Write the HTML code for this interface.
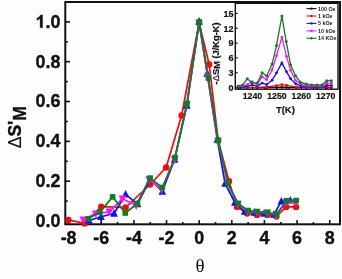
<!DOCTYPE html>
<html><head><meta charset="utf-8"><title>chart</title>
<style>
html,body{margin:0;padding:0;background:#fff;}
body{width:342px;height:279px;overflow:hidden;}
svg{display:block;font-family:"Liberation Sans",sans-serif;filter:blur(0.4px);}
.t{font-weight:bold;font-size:17.9px;fill:#111;stroke:#111;stroke-width:0.35px;}
.it{font-weight:bold;font-size:9px;fill:#111;stroke:#111;stroke-width:0.2px;}
.lg{font-weight:bold;font-size:5.35px;fill:#222;}
</style></head><body>
<svg width="342" height="279" viewBox="0 0 342 279">
<rect width="342" height="279" fill="#fefefe"/>
<g stroke="#111" stroke-width="1.6"><line x1="65.3" y1="221.0" x2="70.0" y2="221.0"/><line x1="65.3" y1="201.1" x2="67.8" y2="201.1"/><line x1="65.3" y1="181.2" x2="70.0" y2="181.2"/><line x1="65.3" y1="161.3" x2="67.8" y2="161.3"/><line x1="65.3" y1="141.4" x2="70.0" y2="141.4"/><line x1="65.3" y1="121.5" x2="67.8" y2="121.5"/><line x1="65.3" y1="101.5" x2="70.0" y2="101.5"/><line x1="65.3" y1="81.6" x2="67.8" y2="81.6"/><line x1="65.3" y1="61.7" x2="70.0" y2="61.7"/><line x1="65.3" y1="41.8" x2="67.8" y2="41.8"/><line x1="65.3" y1="21.9" x2="70.0" y2="21.9"/><line x1="68.6" y1="224.4" x2="68.6" y2="220.0"/><line x1="84.9" y1="224.4" x2="84.9" y2="222.0"/><line x1="101.2" y1="224.4" x2="101.2" y2="220.0"/><line x1="117.6" y1="224.4" x2="117.6" y2="222.0"/><line x1="133.9" y1="224.4" x2="133.9" y2="220.0"/><line x1="150.2" y1="224.4" x2="150.2" y2="222.0"/><line x1="166.5" y1="224.4" x2="166.5" y2="220.0"/><line x1="182.8" y1="224.4" x2="182.8" y2="222.0"/><line x1="199.2" y1="224.4" x2="199.2" y2="220.0"/><line x1="215.5" y1="224.4" x2="215.5" y2="222.0"/><line x1="231.8" y1="224.4" x2="231.8" y2="220.0"/><line x1="248.1" y1="224.4" x2="248.1" y2="222.0"/><line x1="264.4" y1="224.4" x2="264.4" y2="220.0"/><line x1="280.8" y1="224.4" x2="280.8" y2="222.0"/><line x1="297.1" y1="224.4" x2="297.1" y2="220.0"/><line x1="313.4" y1="224.4" x2="313.4" y2="222.0"/><line x1="329.7" y1="224.4" x2="329.7" y2="220.0"/></g>
<rect x="65.3" y="2.0" width="274.7" height="222.3" fill="none" stroke="#111" stroke-width="2"/>
<g><polyline fill="none" stroke="#f80808" stroke-width="1.7" stroke-linejoin="round" points="68.4,219.9 84.6,223.4 101.2,206.7 125.6,207.5 150.1,184.5 166.1,167.5 181.6,115.5 199.1,22.8 209.2,64.5 218.2,140.5 229.0,181.2 237.0,206.9 247.1,213.5 257.0,214.9 267.5,214.9 276.4,216.5 286.2,206.9 296.1,206.9"/><circle cx="68.4" cy="219.9" r="3.2" fill="#f80808"/><circle cx="84.6" cy="223.4" r="3.2" fill="#f80808"/><circle cx="101.2" cy="206.7" r="3.2" fill="#f80808"/><circle cx="125.6" cy="207.5" r="3.2" fill="#f80808"/><circle cx="150.1" cy="184.5" r="3.2" fill="#f80808"/><circle cx="166.1" cy="167.5" r="3.2" fill="#f80808"/><circle cx="181.6" cy="115.5" r="3.2" fill="#f80808"/><circle cx="199.1" cy="22.8" r="3.2" fill="#f80808"/><circle cx="209.2" cy="64.5" r="3.2" fill="#f80808"/><circle cx="218.2" cy="140.5" r="3.2" fill="#f80808"/><circle cx="229.0" cy="181.2" r="3.2" fill="#f80808"/><circle cx="237.0" cy="206.9" r="3.2" fill="#f80808"/><circle cx="247.1" cy="213.5" r="3.2" fill="#f80808"/><circle cx="257.0" cy="214.9" r="3.2" fill="#f80808"/><circle cx="267.5" cy="214.9" r="3.2" fill="#f80808"/><circle cx="276.4" cy="216.5" r="3.2" fill="#f80808"/><circle cx="286.2" cy="206.9" r="3.2" fill="#f80808"/><circle cx="296.1" cy="206.9" r="3.2" fill="#f80808"/><polyline fill="none" stroke="#1010f5" stroke-width="1.7" stroke-linejoin="round" points="89.0,220.5 101.0,216.8 114.1,213.5 125.6,194.3 137.5,204.1 150.1,179.5 162.3,191.5 174.6,159.5 186.9,105.5 199.1,21.5 207.2,73.5 217.3,139.5 225.1,183.5 234.9,202.5 244.6,211.5 254.4,212.5 264.2,213.5 274.0,214.5 281.3,201.3 290.3,200.3"/><polygon fill="#1010f5" points="89.0,216.1 85.2,223.7 92.8,223.7"/><polygon fill="#1010f5" points="101.0,212.4 97.2,220.0 104.8,220.0"/><polygon fill="#1010f5" points="114.1,209.1 110.3,216.7 117.9,216.7"/><polygon fill="#1010f5" points="125.6,189.9 121.8,197.5 129.4,197.5"/><polygon fill="#1010f5" points="137.5,199.7 133.7,207.3 141.3,207.3"/><polygon fill="#1010f5" points="150.1,175.1 146.3,182.7 153.9,182.7"/><polygon fill="#1010f5" points="162.3,187.1 158.5,194.7 166.1,194.7"/><polygon fill="#1010f5" points="174.6,155.1 170.8,162.7 178.4,162.7"/><polygon fill="#1010f5" points="186.9,101.1 183.1,108.7 190.7,108.7"/><polygon fill="#1010f5" points="199.1,17.1 195.3,24.7 202.9,24.7"/><polygon fill="#1010f5" points="207.2,69.1 203.4,76.7 211.0,76.7"/><polygon fill="#1010f5" points="217.3,135.1 213.5,142.7 221.1,142.7"/><polygon fill="#1010f5" points="225.1,179.1 221.3,186.7 228.9,186.7"/><polygon fill="#1010f5" points="234.9,198.1 231.1,205.7 238.7,205.7"/><polygon fill="#1010f5" points="244.6,207.1 240.8,214.7 248.4,214.7"/><polygon fill="#1010f5" points="254.4,208.1 250.6,215.7 258.2,215.7"/><polygon fill="#1010f5" points="264.2,209.1 260.4,216.7 268.0,216.7"/><polygon fill="#1010f5" points="274.0,210.1 270.2,217.7 277.8,217.7"/><polygon fill="#1010f5" points="281.3,196.9 277.5,204.5 285.1,204.5"/><polygon fill="#1010f5" points="290.3,195.9 286.5,203.5 294.1,203.5"/><polyline fill="none" stroke="#f515f5" stroke-width="1.7" stroke-linejoin="round" points="83.2,219.6 95.8,213.6 109.4,211.8 122.4,198.7 136.2,205.5 149.1,179.5 161.5,189.5 174.6,159.5 186.8,104.5 199.1,23.0 207.8,77.0 218.0,140.8 227.8,184.0 237.8,204.0 247.5,211.3 256.8,212.1 267.2,212.9 276.2,215.0 286.3,202.3 295.9,202.3"/><polygon fill="#f515f5" points="83.2,224.0 79.4,216.4 87.0,216.4"/><polygon fill="#f515f5" points="95.8,218.0 92.0,210.4 99.6,210.4"/><polygon fill="#f515f5" points="109.4,216.2 105.6,208.6 113.2,208.6"/><polygon fill="#f515f5" points="122.4,203.1 118.6,195.5 126.2,195.5"/><polygon fill="#f515f5" points="136.2,209.9 132.4,202.3 140.0,202.3"/><polygon fill="#f515f5" points="149.1,183.9 145.3,176.3 152.9,176.3"/><polygon fill="#f515f5" points="161.5,193.9 157.7,186.3 165.3,186.3"/><polygon fill="#f515f5" points="174.6,163.9 170.8,156.3 178.4,156.3"/><polygon fill="#f515f5" points="186.8,108.9 183.0,101.3 190.6,101.3"/><polygon fill="#f515f5" points="199.1,27.4 195.3,19.8 202.9,19.8"/><polygon fill="#f515f5" points="207.8,81.4 204.0,73.8 211.6,73.8"/><polygon fill="#f515f5" points="218.0,145.2 214.2,137.6 221.8,137.6"/><polygon fill="#f515f5" points="227.8,188.4 224.0,180.8 231.6,180.8"/><polygon fill="#f515f5" points="237.8,208.4 234.0,200.8 241.6,200.8"/><polygon fill="#f515f5" points="247.5,215.7 243.7,208.1 251.3,208.1"/><polygon fill="#f515f5" points="256.8,216.5 253.0,208.9 260.6,208.9"/><polygon fill="#f515f5" points="267.2,217.3 263.4,209.7 271.0,209.7"/><polygon fill="#f515f5" points="276.2,219.4 272.4,211.8 280.0,211.8"/><polygon fill="#f515f5" points="286.3,206.7 282.5,199.1 290.1,199.1"/><polygon fill="#f515f5" points="295.9,206.7 292.1,199.1 299.7,199.1"/><polyline fill="none" stroke="#0a8020" stroke-width="1.7" stroke-linejoin="round" points="88.3,218.8 99.9,212.1 112.6,196.9 125.3,213.0 137.5,203.5 150.1,178.1 162.3,187.5 175.0,157.5 186.9,103.5 199.2,22.0 208.4,78.0 218.2,140.5 228.0,183.5 238.1,203.5 247.9,210.5 257.0,211.5 267.5,212.3 276.5,214.3 286.6,200.8 296.1,200.5"/><rect x="85.5" y="216.0" width="5.6" height="5.6" fill="#0a8020"/><rect x="97.1" y="209.3" width="5.6" height="5.6" fill="#0a8020"/><rect x="109.8" y="194.1" width="5.6" height="5.6" fill="#0a8020"/><rect x="122.5" y="210.2" width="5.6" height="5.6" fill="#0a8020"/><rect x="134.7" y="200.7" width="5.6" height="5.6" fill="#0a8020"/><rect x="147.3" y="175.3" width="5.6" height="5.6" fill="#0a8020"/><rect x="159.5" y="184.7" width="5.6" height="5.6" fill="#0a8020"/><rect x="172.2" y="154.7" width="5.6" height="5.6" fill="#0a8020"/><rect x="184.1" y="100.7" width="5.6" height="5.6" fill="#0a8020"/><rect x="196.4" y="19.2" width="5.6" height="5.6" fill="#0a8020"/><rect x="205.6" y="75.2" width="5.6" height="5.6" fill="#0a8020"/><rect x="215.4" y="137.7" width="5.6" height="5.6" fill="#0a8020"/><rect x="225.2" y="180.7" width="5.6" height="5.6" fill="#0a8020"/><rect x="235.3" y="200.7" width="5.6" height="5.6" fill="#0a8020"/><rect x="245.1" y="207.7" width="5.6" height="5.6" fill="#0a8020"/><rect x="254.2" y="208.7" width="5.6" height="5.6" fill="#0a8020"/><rect x="264.7" y="209.5" width="5.6" height="5.6" fill="#0a8020"/><rect x="273.7" y="211.5" width="5.6" height="5.6" fill="#0a8020"/><rect x="283.8" y="198.0" width="5.6" height="5.6" fill="#0a8020"/><rect x="293.3" y="197.7" width="5.6" height="5.6" fill="#0a8020"/></g>
<g class="t"><text x="60.4" y="226.9" text-anchor="end">0.0</text><text x="60.4" y="187.1" text-anchor="end">0.2</text><text x="60.4" y="147.3" text-anchor="end">0.4</text><text x="60.4" y="107.4" text-anchor="end">0.6</text><text x="60.4" y="67.6" text-anchor="end">0.8</text><text x="60.4" y="27.8" text-anchor="end">.0</text><polygon points="42.57,27.80 40.10,27.80 40.10,18.55 36.93,20.41 36.93,18.19 39.10,16.88 40.57,14.93 42.57,14.93"/><text x="68.6" y="244.4" text-anchor="middle">-8</text><text x="101.2" y="244.4" text-anchor="middle">-6</text><text x="133.9" y="244.4" text-anchor="middle">-4</text><text x="166.5" y="244.4" text-anchor="middle">-2</text><text x="199.2" y="244.4" text-anchor="middle">0</text><text x="231.8" y="244.4" text-anchor="middle">2</text><text x="264.4" y="244.4" text-anchor="middle">4</text><text x="297.1" y="244.4" text-anchor="middle">6</text><text x="329.7" y="244.4" text-anchor="middle">8</text></g>
<g class="t" style="font-size:17.5px" transform="translate(21,148.3) rotate(-90)"><text x="0" y="0"><tspan font-weight="normal" stroke-width="0.1">&#916;</tspan>S'<tspan dy="5.2">M</tspan></text></g>
<text x="200" y="272.3" text-anchor="middle" style="font-family:'Liberation Serif',serif;font-size:19px;fill:#111">&#952;</text>
<!-- inset -->
<g><polyline fill="none" stroke="#111" stroke-width="1.3" stroke-linejoin="round" points="238.2,87.6 247.2,87.6 257.2,87.6 266.7,87.5 276.5,87.4 281.9,87.2 286.5,87.4 296.3,87.5 306.3,87.6 317.0,87.6 326.8,87.6 331.4,87.6"/><circle cx="238.2" cy="87.6" r="1.3" fill="#111"/><circle cx="247.2" cy="87.6" r="1.3" fill="#111"/><circle cx="257.2" cy="87.6" r="1.3" fill="#111"/><circle cx="266.7" cy="87.5" r="1.3" fill="#111"/><circle cx="276.5" cy="87.4" r="1.3" fill="#111"/><circle cx="281.9" cy="87.2" r="1.3" fill="#111"/><circle cx="286.5" cy="87.4" r="1.3" fill="#111"/><circle cx="296.3" cy="87.5" r="1.3" fill="#111"/><circle cx="306.3" cy="87.6" r="1.3" fill="#111"/><circle cx="317.0" cy="87.6" r="1.3" fill="#111"/><circle cx="326.8" cy="87.6" r="1.3" fill="#111"/><circle cx="331.4" cy="87.6" r="1.3" fill="#111"/><polyline fill="none" stroke="#f80808" stroke-width="1.3" stroke-linejoin="round" points="238.2,87.6 247.2,87.4 257.2,87.4 266.7,86.9 276.5,85.6 281.9,84.6 286.5,85.4 296.3,86.9 306.3,87.4 317.0,87.5 326.8,87.1 331.4,87.1"/><circle cx="238.2" cy="87.6" r="1.4" fill="#f80808"/><circle cx="247.2" cy="87.4" r="1.4" fill="#f80808"/><circle cx="257.2" cy="87.4" r="1.4" fill="#f80808"/><circle cx="266.7" cy="86.9" r="1.4" fill="#f80808"/><circle cx="276.5" cy="85.6" r="1.4" fill="#f80808"/><circle cx="281.9" cy="84.6" r="1.4" fill="#f80808"/><circle cx="286.5" cy="85.4" r="1.4" fill="#f80808"/><circle cx="296.3" cy="86.9" r="1.4" fill="#f80808"/><circle cx="306.3" cy="87.4" r="1.4" fill="#f80808"/><circle cx="317.0" cy="87.5" r="1.4" fill="#f80808"/><circle cx="326.8" cy="87.1" r="1.4" fill="#f80808"/><circle cx="331.4" cy="87.1" r="1.4" fill="#f80808"/><polyline fill="none" stroke="#1010f5" stroke-width="1.3" stroke-linejoin="round" points="238.2,87.1 242.6,86.9 247.2,86.1 252.1,85.1 257.2,86.1 262.1,83.1 266.7,84.6 272.1,80.2 276.5,72.8 281.9,62.9 286.5,71.8 290.6,78.7 295.5,83.6 300.9,85.9 306.3,86.6 311.6,86.9 317.0,86.9 321.6,86.9 326.8,85.4 331.4,85.4"/><circle cx="238.2" cy="87.1" r="1.4" fill="#1010f5"/><circle cx="242.6" cy="86.9" r="1.4" fill="#1010f5"/><circle cx="247.2" cy="86.1" r="1.4" fill="#1010f5"/><circle cx="252.1" cy="85.1" r="1.4" fill="#1010f5"/><circle cx="257.2" cy="86.1" r="1.4" fill="#1010f5"/><circle cx="262.1" cy="83.1" r="1.4" fill="#1010f5"/><circle cx="266.7" cy="84.6" r="1.4" fill="#1010f5"/><circle cx="272.1" cy="80.2" r="1.4" fill="#1010f5"/><circle cx="276.5" cy="72.8" r="1.4" fill="#1010f5"/><circle cx="281.9" cy="62.9" r="1.4" fill="#1010f5"/><circle cx="286.5" cy="71.8" r="1.4" fill="#1010f5"/><circle cx="290.6" cy="78.7" r="1.4" fill="#1010f5"/><circle cx="295.5" cy="83.6" r="1.4" fill="#1010f5"/><circle cx="300.9" cy="85.9" r="1.4" fill="#1010f5"/><circle cx="306.3" cy="86.6" r="1.4" fill="#1010f5"/><circle cx="311.6" cy="86.9" r="1.4" fill="#1010f5"/><circle cx="317.0" cy="86.9" r="1.4" fill="#1010f5"/><circle cx="321.6" cy="86.9" r="1.4" fill="#1010f5"/><circle cx="326.8" cy="85.4" r="1.4" fill="#1010f5"/><circle cx="331.4" cy="85.4" r="1.4" fill="#1010f5"/><polyline fill="none" stroke="#f515f5" stroke-width="1.3" stroke-linejoin="round" points="238.2,86.6 242.6,86.1 247.2,84.6 252.1,81.7 257.2,84.6 262.1,76.7 266.7,79.7 272.1,70.0 276.5,55.7 281.9,37.1 286.5,56.4 290.6,70.3 295.5,80.2 300.9,84.1 306.3,85.6 311.6,85.9 317.0,85.9 321.6,86.1 326.8,83.1 331.4,83.1"/><circle cx="238.2" cy="86.6" r="1.4" fill="#f515f5"/><circle cx="242.6" cy="86.1" r="1.4" fill="#f515f5"/><circle cx="247.2" cy="84.6" r="1.4" fill="#f515f5"/><circle cx="252.1" cy="81.7" r="1.4" fill="#f515f5"/><circle cx="257.2" cy="84.6" r="1.4" fill="#f515f5"/><circle cx="262.1" cy="76.7" r="1.4" fill="#f515f5"/><circle cx="266.7" cy="79.7" r="1.4" fill="#f515f5"/><circle cx="272.1" cy="70.0" r="1.4" fill="#f515f5"/><circle cx="276.5" cy="55.7" r="1.4" fill="#f515f5"/><circle cx="281.9" cy="37.1" r="1.4" fill="#f515f5"/><circle cx="286.5" cy="56.4" r="1.4" fill="#f515f5"/><circle cx="290.6" cy="70.3" r="1.4" fill="#f515f5"/><circle cx="295.5" cy="80.2" r="1.4" fill="#f515f5"/><circle cx="300.9" cy="84.1" r="1.4" fill="#f515f5"/><circle cx="306.3" cy="85.6" r="1.4" fill="#f515f5"/><circle cx="311.6" cy="85.9" r="1.4" fill="#f515f5"/><circle cx="317.0" cy="85.9" r="1.4" fill="#f515f5"/><circle cx="321.6" cy="86.1" r="1.4" fill="#f515f5"/><circle cx="326.8" cy="83.1" r="1.4" fill="#f515f5"/><circle cx="331.4" cy="83.1" r="1.4" fill="#f515f5"/><polyline fill="none" stroke="#0a8020" stroke-width="1.3" stroke-linejoin="round" points="238.2,86.1 242.6,85.1 247.2,78.8 252.1,82.7 257.2,83.1 262.1,72.8 266.7,76.0 272.1,64.1 276.5,45.6 281.9,16.1 286.2,41.6 290.6,64.8 295.5,75.7 300.4,82.2 306.3,84.1 311.6,84.9 317.0,84.9 321.6,85.1 326.8,80.7 331.4,80.7"/><circle cx="238.2" cy="86.1" r="1.5" fill="#0a8020"/><circle cx="242.6" cy="85.1" r="1.5" fill="#0a8020"/><circle cx="247.2" cy="78.8" r="1.5" fill="#0a8020"/><circle cx="252.1" cy="82.7" r="1.5" fill="#0a8020"/><circle cx="257.2" cy="83.1" r="1.5" fill="#0a8020"/><circle cx="262.1" cy="72.8" r="1.5" fill="#0a8020"/><circle cx="266.7" cy="76.0" r="1.5" fill="#0a8020"/><circle cx="272.1" cy="64.1" r="1.5" fill="#0a8020"/><circle cx="276.5" cy="45.6" r="1.5" fill="#0a8020"/><circle cx="281.9" cy="16.1" r="1.5" fill="#0a8020"/><circle cx="286.2" cy="41.6" r="1.5" fill="#0a8020"/><circle cx="290.6" cy="64.8" r="1.5" fill="#0a8020"/><circle cx="295.5" cy="75.7" r="1.5" fill="#0a8020"/><circle cx="300.4" cy="82.2" r="1.5" fill="#0a8020"/><circle cx="306.3" cy="84.1" r="1.5" fill="#0a8020"/><circle cx="311.6" cy="84.9" r="1.5" fill="#0a8020"/><circle cx="317.0" cy="84.9" r="1.5" fill="#0a8020"/><circle cx="321.6" cy="85.1" r="1.5" fill="#0a8020"/><circle cx="326.8" cy="80.7" r="1.5" fill="#0a8020"/><circle cx="331.4" cy="80.7" r="1.5" fill="#0a8020"/></g>
<g stroke="#111" stroke-width="1.1"><line x1="235.3" y1="87.6" x2="237.8" y2="87.6"/><line x1="235.3" y1="72.8" x2="237.8" y2="72.8"/><line x1="235.3" y1="57.9" x2="237.8" y2="57.9"/><line x1="235.3" y1="43.1" x2="237.8" y2="43.1"/><line x1="235.3" y1="28.2" x2="237.8" y2="28.2"/><line x1="235.3" y1="13.4" x2="237.8" y2="13.4"/><line x1="252.5" y1="89.2" x2="252.5" y2="86.7"/><line x1="276.9" y1="89.2" x2="276.9" y2="86.7"/><line x1="301.3" y1="89.2" x2="301.3" y2="86.7"/><line x1="325.7" y1="89.2" x2="325.7" y2="86.7"/><line x1="240.3" y1="89.2" x2="240.3" y2="87.7"/><line x1="264.7" y1="89.2" x2="264.7" y2="87.7"/><line x1="289.1" y1="89.2" x2="289.1" y2="87.7"/><line x1="313.5" y1="89.2" x2="313.5" y2="87.7"/></g>
<rect x="235.3" y="3.3" width="102.7" height="85.9" fill="none" stroke="#111" stroke-width="1.4"/>
<g class="it"><text x="233.4" y="90.9" text-anchor="end">0</text><text x="233.4" y="76.1" text-anchor="end">3</text><text x="233.4" y="61.2" text-anchor="end">6</text><text x="233.4" y="46.4" text-anchor="end">9</text><text x="233.4" y="31.5" text-anchor="end">12</text><text x="233.4" y="16.7" text-anchor="end">15</text><text x="252.5" y="99.3" font-size="9.7" text-anchor="middle" textLength="19.5" lengthAdjust="spacingAndGlyphs">1240</text><text x="276.9" y="99.3" font-size="9.7" text-anchor="middle" textLength="19.5" lengthAdjust="spacingAndGlyphs">1250</text><text x="301.3" y="99.3" font-size="9.7" text-anchor="middle" textLength="19.5" lengthAdjust="spacingAndGlyphs">1260</text><text x="325.7" y="99.3" font-size="9.7" text-anchor="middle" textLength="19.5" lengthAdjust="spacingAndGlyphs">1270</text><text x="285.4" y="113.1" text-anchor="middle" font-size="9.4">T(K)</text></g>
<g class="it" style="font-size:9.3px" transform="translate(219.0,84.4) rotate(-90)"><text x="0" y="0">-<tspan font-weight="normal">&#916;</tspan>S<tspan dy="1.3">M</tspan><tspan dy="-1.3"> (J/Kg-K)</tspan></text></g>
<g><line x1="306.5" y1="8.6" x2="316.5" y2="8.6" stroke="#111" stroke-width="1.1"/><circle cx="311.5" cy="8.6" r="1.2" fill="#111"/><text x="318" y="10.5" class="lg">100 Oe</text><line x1="306.5" y1="16.0" x2="316.5" y2="16.0" stroke="#f80808" stroke-width="1.1"/><circle cx="311.5" cy="16.0" r="1.2" fill="#f80808"/><text x="318" y="17.9" class="lg">1 kOe</text><line x1="306.5" y1="23.4" x2="316.5" y2="23.4" stroke="#1010f5" stroke-width="1.1"/><circle cx="311.5" cy="23.4" r="1.2" fill="#1010f5"/><text x="318" y="25.3" class="lg">5 kOe</text><line x1="306.5" y1="30.9" x2="316.5" y2="30.9" stroke="#f515f5" stroke-width="1.1"/><circle cx="311.5" cy="30.9" r="1.2" fill="#f515f5"/><text x="318" y="32.8" class="lg">10 kOe</text><line x1="306.5" y1="38.3" x2="316.5" y2="38.3" stroke="#0a8020" stroke-width="1.1"/><circle cx="311.5" cy="38.3" r="1.2" fill="#0a8020"/><text x="318" y="40.2" class="lg">14 KOe</text></g>
</svg>
</body></html>
